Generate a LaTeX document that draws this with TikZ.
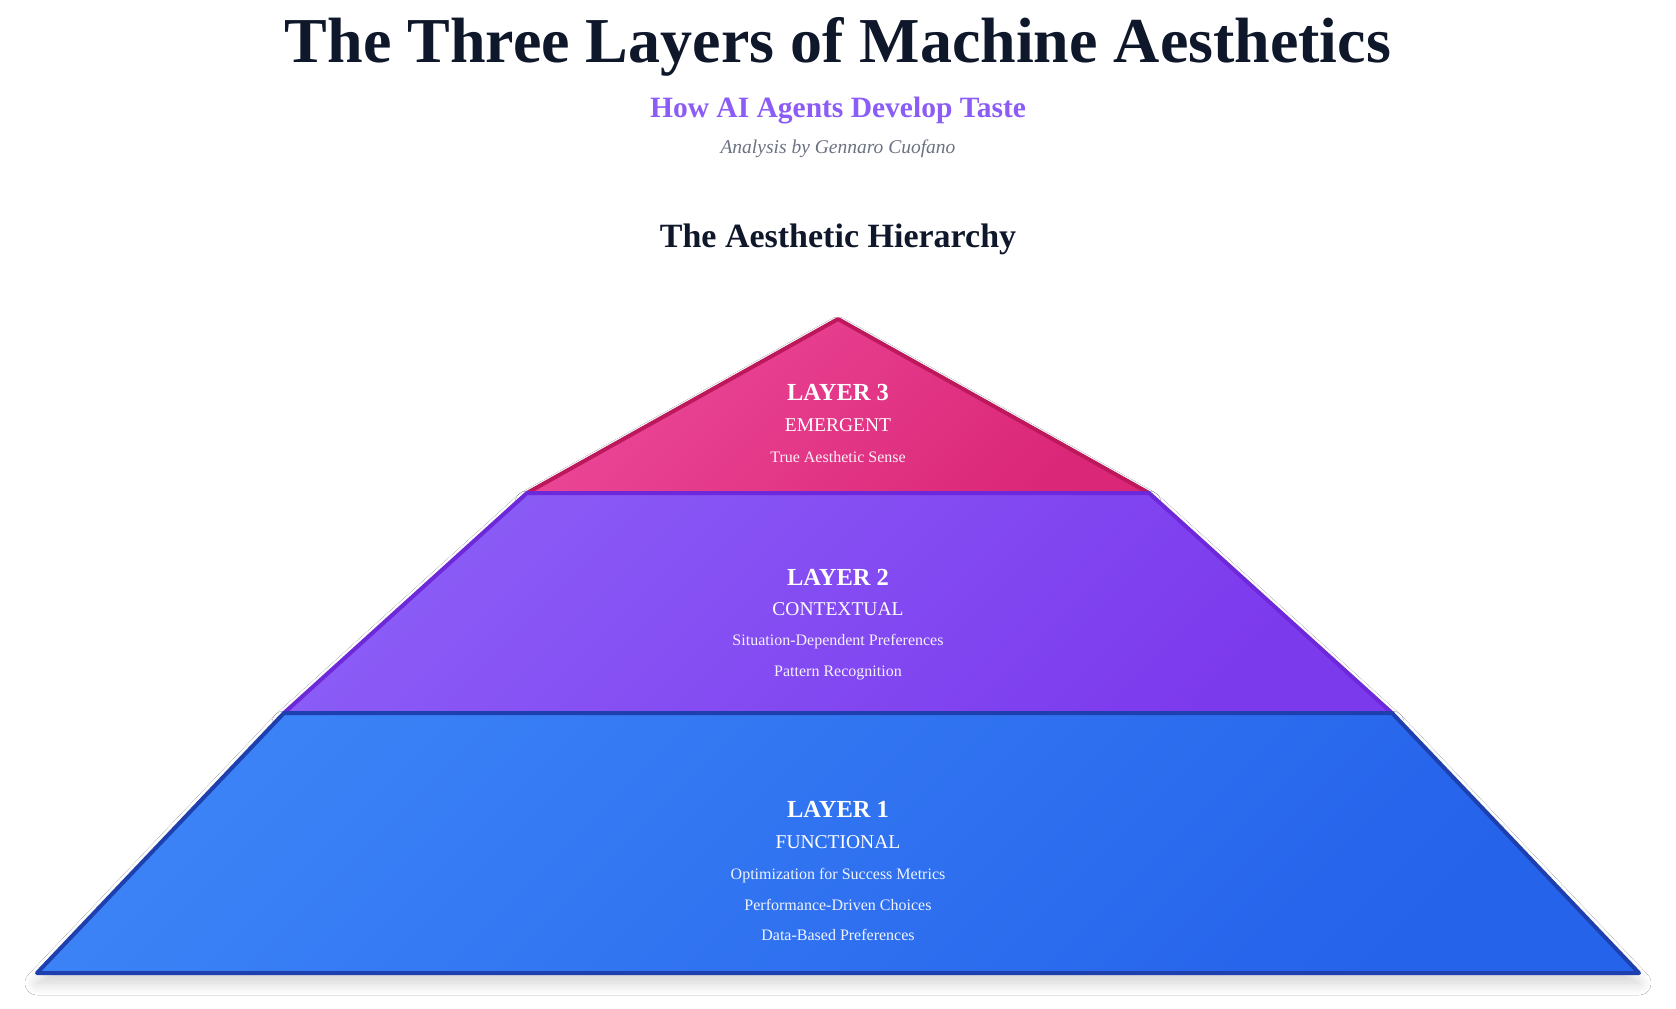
\documentclass[tikz,border=0pt]{standalone}
\usepackage{fontspec}
\setmainfont{Liberation Serif}
\usetikzlibrary{positioning, shadows.blur}

\definecolor{titleink}{HTML}{0F172A}
\definecolor{taglineink}{HTML}{8B5CF6}
\definecolor{authorink}{HTML}{6B7280}
\definecolor{pinklight}{HTML}{EC4899}
\definecolor{pinkdark}{HTML}{DB2777}
\definecolor{pinkedge}{HTML}{BE185D}
\definecolor{violetlight}{HTML}{8B5CF6}
\definecolor{violetdark}{HTML}{7C3AED}
\definecolor{violetedge}{HTML}{6D28D9}
\definecolor{bluelight}{HTML}{3B82F6}
\definecolor{bluedark}{HTML}{2563EB}
\definecolor{blueedge}{HTML}{1E40AF}

\begin{document}
\begin{tikzpicture}[
    x=0.5pt, y=-0.5pt,
    tier/.style={line width=2pt, line join=round, blur shadow={shadow xshift=0pt, shadow yshift=-5pt, shadow blur radius=6pt, shadow blur steps=16, shadow opacity=18}},
    maintitle/.style={font=\fontsize{32}{38}\selectfont\bfseries, text=titleink, inner sep=0pt, anchor=base},
    tagline/.style={font=\fontsize{14.75}{18}\selectfont\bfseries, text=taglineink, inner sep=0pt},
    byline/.style={font=\fontsize{9.75}{12}\selectfont\itshape, text=authorink, inner sep=0pt},
    heading/.style={font=\fontsize{17}{20}\selectfont\bfseries, text=titleink, inner sep=0pt},
    tiertitle/.style={font=\fontsize{12.25}{15}\selectfont\bfseries, text=white, inner sep=0pt, anchor=base},
    tiername/.style={font=\fontsize{9.75}{12}\selectfont, text=white, inner sep=0pt},
    tieritem/.style={font=\fontsize{8}{10}\selectfont, text=white, text opacity=0.92, inner sep=0pt}
]

\fill[white] (0,0) rectangle (1676,1008);
\useasboundingbox (0,0) rectangle (1676,1008);

% Headings
\node[maintitle] (title) at (838,62) {The Three Layers of Machine Aesthetics};
\node[tagline, below=27.5pt of title.base, anchor=base] (subtitle) {How AI Agents Develop Taste};
\node[byline, below=18pt of subtitle.base, anchor=base] (author) {Analysis by Gennaro Cuofano};
\node[heading, below=47pt of author.base, anchor=base] (hierarchy) {The Aesthetic Hierarchy};

% Pyramid corners
\coordinate (apex) at (838,319);
\coordinate (l3left) at (527,493);
\coordinate (l3right) at (1149,493);
\coordinate (l2left) at (284,713);
\coordinate (l2right) at (1392,713);
\coordinate (l1left) at (37,973);
\coordinate (l1right) at (1639,973);

% Layers, top first
\draw[tier, draw=pinkedge, top color=pinklight, bottom color=pinkdark, shading angle=45]
    (apex) -- (l3right) -- (l3left) -- cycle;
\draw[tier, draw=violetedge, top color=violetlight, bottom color=violetdark, shading angle=45]
    (l3left) -- (l3right) -- (l2right) -- (l2left) -- cycle;
\draw[tier, draw=blueedge, top color=bluelight, bottom color=bluedark, shading angle=45]
    (l2left) -- (l2right) -- (l1right) -- (l1left) -- cycle;

% Layer 3
\node[tiertitle] (l3title) at (838,400) {LAYER 3};
\node[tiername, below=15.5pt of l3title.base, anchor=base] (l3name) {EMERGENT};
\node[tieritem, below=15.5pt of l3name.base, anchor=base] (l3sense) {True Aesthetic Sense};

% Layer 2
\node[tiertitle] (l2title) at (838,585) {LAYER 2};
\node[tiername, below=15pt of l2title.base, anchor=base] (l2name) {CONTEXTUAL};
\node[tieritem, below=15pt of l2name.base, anchor=base] (l2situation) {Situation-Dependent Preferences};
\node[tieritem, below=15.5pt of l2situation.base, anchor=base] (l2pattern) {Pattern Recognition};

% Layer 1
\node[tiertitle] (l1title) at (838,817) {LAYER 1};
\node[tiername, below=15.5pt of l1title.base, anchor=base] (l1name) {FUNCTIONAL};
\node[tieritem, below=15.5pt of l1name.base, anchor=base] (l1metrics) {Optimization for Success Metrics};
\node[tieritem, below=15.5pt of l1metrics.base, anchor=base] (l1choices) {Performance-Driven Choices};
\node[tieritem, below=15pt of l1choices.base, anchor=base] (l1data) {Data-Based Preferences};

\end{tikzpicture}
\end{document}
